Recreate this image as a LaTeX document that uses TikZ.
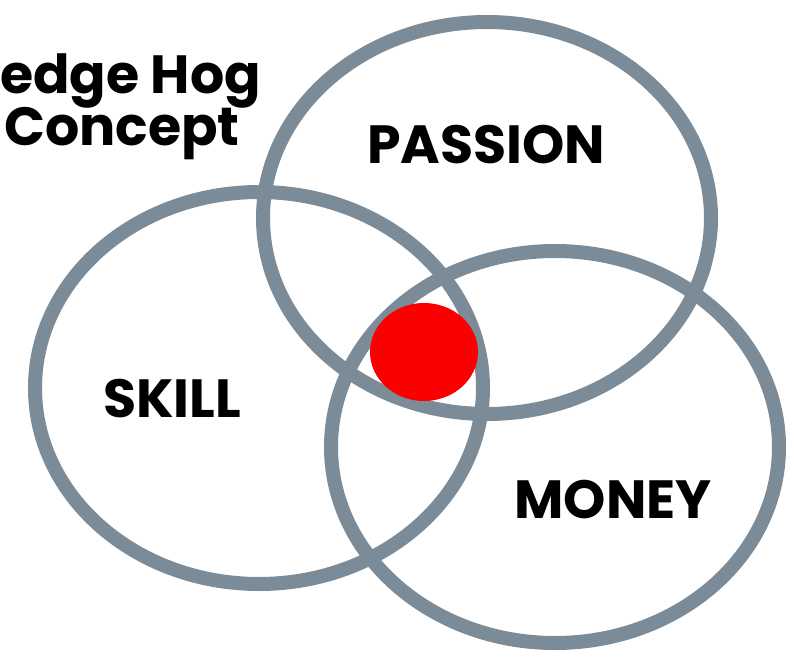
\documentclass[tikz,border=0pt]{standalone}
\usepackage{fontspec}
\setmainfont{Poppins}
\definecolor{ringgray}{RGB}{124,139,152}
\definecolor{dotred}{RGB}{250,0,0}
\begin{document}
\begin{tikzpicture}[x=1bp, y=-1bp, line join=round, line cap=round, font=\bfseries\fontsize{54}{60}\selectfont]
	\def \rx{224}
	\def \ry{196}
	\useasboundingbox (0,0) rectangle (794,658);
	\draw[ringgray, line width=14bp] (487,218) ellipse ({\rx} and {\ry})
		(259,388) ellipse ({\rx} and {\ry})
		(555,447) ellipse ({\rx} and {\ry});
	\fill[dotred] (424,352) ellipse (54 and 49);
	\node[anchor=base west, inner sep=0] (hog) at (0,94) {edge Hog};
	\node[anchor=base west, inner sep=0] (concept) at (4,146) {Concept};
	\node[anchor=base, inner sep=0] (passion) at (486,163) {PASSION};
	\node[anchor=base, inner sep=0] (skill) at (172,417) {SKILL};
	\node[anchor=base, inner sep=0] (money) at (613,518) {MONEY};
\end{tikzpicture}
\end{document}
